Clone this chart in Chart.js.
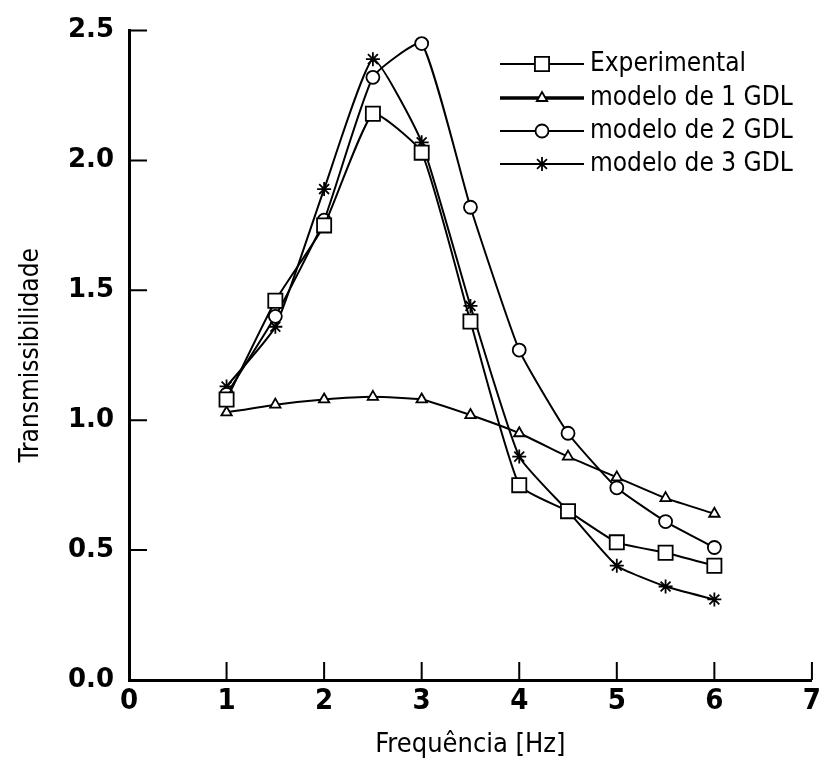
<!DOCTYPE html>
<html>
<head>
<meta charset="utf-8">
<script src="https://cdn.jsdelivr.net/npm/chart.js@4"></script>
<style>
  html, body { margin: 0; padding: 0; background: #fff; }
  #wrap { width: 825px; height: 764px; position: relative; }
</style>
</head>
<body>
<div id="wrap"><canvas id="c" width="825" height="764"></canvas></div>
<script>
const freq = [1, 1.5, 2, 2.5, 3, 3.5, 4, 4.5, 5, 5.5, 6];
const experimental = [1.08, 1.46, 1.75, 2.18, 2.03, 1.38, 0.75, 0.65, 0.53, 0.49, 0.44];
const gdl1 = [1.03, 1.06, 1.08, 1.09, 1.08, 1.02, 0.95, 0.86, 0.78, 0.70, 0.64];
const gdl2 = [1.10, 1.40, 1.77, 2.32, 2.45, 1.82, 1.27, 0.95, 0.74, 0.61, 0.51];
const gdl3 = [1.13, 1.36, 1.89, 2.39, 2.07, 1.44, 0.86, 0.65, 0.44, 0.36, 0.31];
const xTicks = [0, 1, 2, 3, 4, 5, 6, 7];
const yTicks = [0, 0.5, 1.0, 1.5, 2.0, 2.5];

const narrow = "'DejaVu Sans Condensed', 'Liberation Sans', sans-serif";

const pts = (ys) => freq.map((x, i) => ({ x, y: ys[i] }));

function series(label, ys, style, radius) {
  return {
    label,
    data: pts(ys),
    borderColor: "#000",
    backgroundColor: "#fff",
    borderWidth: 2,
    pointStyle: style,
    pointRadius: radius,
    pointBorderWidth: 1.8,
    pointBorderColor: "#000",
    pointBackgroundColor: "#fff",
    tension: 0.15,
    fill: false,
  };
}

// ticks pointing into the plot, like the scanned original
const innerTicks = {
  id: "innerTicks",
  afterDraw(chart) {
    const { ctx, chartArea: a, scales } = chart;
    ctx.save();
    ctx.strokeStyle = "#000";
    ctx.lineWidth = 2;
    ctx.beginPath();
    yTicks.filter((v) => v > 0).forEach((v) => {
      const y = scales.y.getPixelForValue(v);
      ctx.moveTo(a.left, y);
      ctx.lineTo(a.left + 18, y);
    });
    xTicks.filter((v) => v > 0).forEach((v) => {
      const x = scales.x.getPixelForValue(v);
      ctx.moveTo(x, a.bottom);
      ctx.lineTo(x, a.bottom - 18);
    });
    ctx.stroke();
    ctx.restore();
  },
};

const lineLegend = {
  id: "lineLegend",
  afterDraw(chart) {
    const { ctx } = chart;
    const rows = [64, 98, 131, 164];
    ctx.save();
    chart.data.datasets.forEach((ds, i) => {
      const y = rows[i];
      ctx.strokeStyle = "#000";
      ctx.lineWidth = i === 1 ? 3.5 : 2;
      ctx.beginPath();
      ctx.moveTo(500, y);
      ctx.lineTo(584, y);
      ctx.stroke();
      ctx.fillStyle = "#fff";
      ctx.lineWidth = 1.8;
      Chart.helpers.drawPoint(ctx, { pointStyle: ds.pointStyle, radius: ds.pointRadius, borderWidth: 1.8, rotation: 0 }, 542, y);
      ctx.fillStyle = "#000";
      ctx.font = "26px " + narrow;
      ctx.textBaseline = "middle";
      ctx.fillText(ds.label, 590, y);
    });
    ctx.restore();
  },
};

new Chart(document.getElementById("c"), {
  type: "line",
  data: {
    datasets: [
      series("Experimental", experimental, "rect", 10),
      series("modelo de 1 GDL", gdl1, "triangle", 6),
      series("modelo de 2 GDL", gdl2, "circle", 6.5),
      series("modelo de 3 GDL", gdl3, "star", 7),
    ],
  },
  options: {
    responsive: false,
    animation: false,
    layout: { padding: { top: 23, right: 5, left: 0, bottom: 0 } },
    plugins: { legend: { display: false }, tooltip: { enabled: false } },
    scales: {
      x: {
        type: "linear",
        min: 0,
        max: 7,
        afterBuildTicks: (s) => { s.ticks = xTicks.map((v) => ({ value: v })); },
        afterFit: (s) => { s.height = 84; },
        grid: { display: false, drawTicks: false },
        border: { display: true, color: "#000", width: 3 },
        ticks: { color: "#000", padding: 4, font: { family: "'DejaVu Sans Condensed', sans-serif", weight: "bold", size: 29 } },
        title: { display: true, text: "Frequência [Hz]", color: "#000", font: { family: narrow, size: 27 }, padding: { top: 0, bottom: 3 } },
      },
      y: {
        min: 0,
        max: 2.5,
        afterBuildTicks: (s) => { s.ticks = yTicks.map((v) => ({ value: v })); },
        afterFit: (s) => { s.width = 129; },
        grid: { display: false, drawTicks: false },
        border: { display: true, color: "#000", width: 3 },
        ticks: { color: "#000", padding: 15, callback: (v) => v.toFixed(1), font: { family: "'DejaVu Sans', sans-serif", weight: "bold", size: 26 } },
        title: { display: true, text: "Transmissibilidade", color: "#000", font: { family: narrow, size: 26 }, padding: { top: 16, bottom: 0 } },
      },
    },
  },
  plugins: [innerTicks, lineLegend],
});
</script>
</body>
</html>
